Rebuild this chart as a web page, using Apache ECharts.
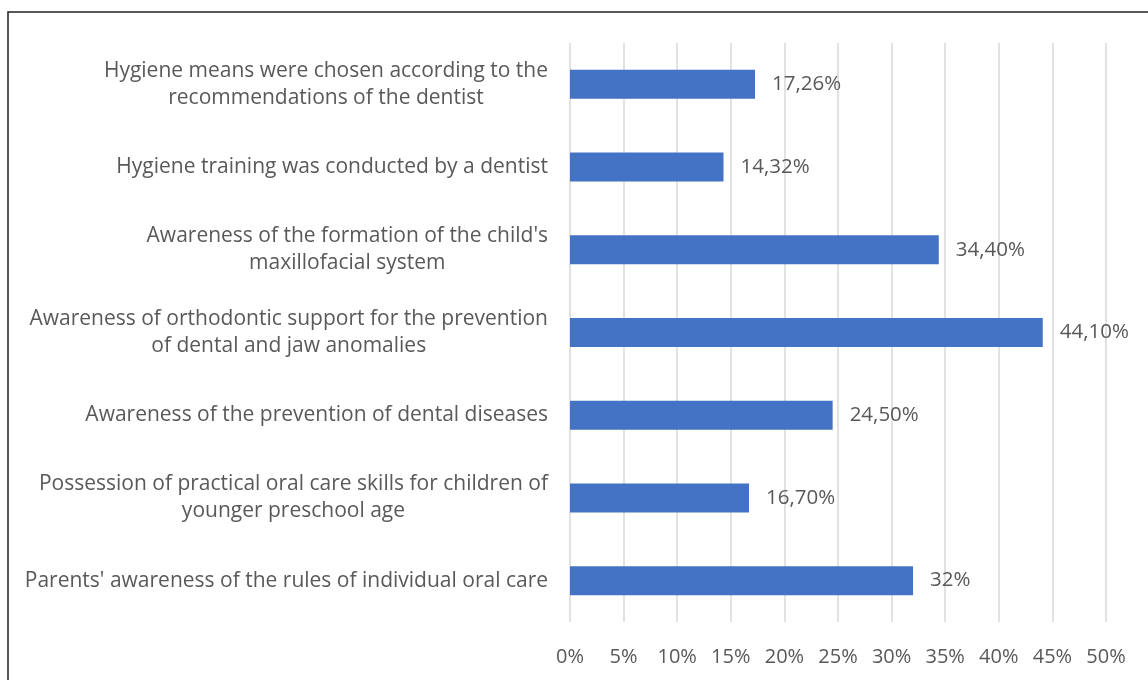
<!DOCTYPE html>
<html><head><meta charset="utf-8">
<script src="https://cdn.jsdelivr.net/npm/echarts@6/dist/echarts.min.js"></script>
<style>html,body{margin:0;padding:0;background:#fff}#c{width:1148px;height:680px}</style>
</head><body><div id="c"></div>
<script>
const categories = [
  "Hygiene means were chosen according to the\nrecommendations of the dentist",
  "Hygiene training was conducted by a dentist",
  "Awareness of the formation of the child's\nmaxillofacial system",
  "Awareness of orthodontic support for the prevention\nof dental and jaw anomalies",
  "Awareness of the prevention of dental diseases",
  "Possession of practical oral care skills for children of\nyounger preschool age",
  "Parents' awareness of the rules of individual oral care"
];
const values = [17.26, 14.32, 34.40, 44.10, 24.50, 16.70, 32];
const valueLabels = ["17,26%", "14,32%", "34,40%", "44,10%", "24,50%", "16,70%", "32%"];
const xTicks = [0, 5, 10, 15, 20, 25, 30, 35, 40, 45, 50];

const chart = echarts.init(document.getElementById('c'));
const font = 'Open Sans';
const fs = 21;
chart.setOption({
  animation: false,
  graphic: [{
    type: 'rect', shape: {x: 8, y: 12, width: 1200, height: 700},
    style: {fill: 'none', stroke: '#222', lineWidth: 1.5}, silent: true
  }],
  grid: {left: 570, right: 42, top: 43, bottom: 58, containLabel: false},
  xAxis: {
    type: 'value', min: xTicks[0], max: xTicks[xTicks.length - 1], interval: 5,
    axisLine: {show: false}, axisTick: {show: false},
    axisLabel: {formatter: '{value}%', color: '#595959', fontSize: 20, fontFamily: font, margin: 25},
    splitLine: {lineStyle: {color: '#d9d9d9', width: 1.5}}
  },
  yAxis: {
    type: 'category', data: categories, inverse: true,
    axisLine: {show: false}, axisTick: {show: false},
    axisLabel: {
      color: '#595959', fontSize: fs, fontFamily: font, margin: 22, lineHeight: 27, align: 'right',
      formatter: v => v.split('\n').map(l => '{c|' + l + '}').join('\n'),
      rich: {c: {align: 'center', color: '#595959', fontSize: fs, fontFamily: font, lineHeight: 27}}
    }
  },
  series: [{
    type: 'bar', data: values, barWidth: 29,
    itemStyle: {color: '#4472C4'},
    label: {
      show: true, position: 'right', distance: 17,
      color: '#595959', fontSize: 20.5, fontFamily: font,
      formatter: p => valueLabels[p.dataIndex]
    }
  }]
});
</script></body></html>
